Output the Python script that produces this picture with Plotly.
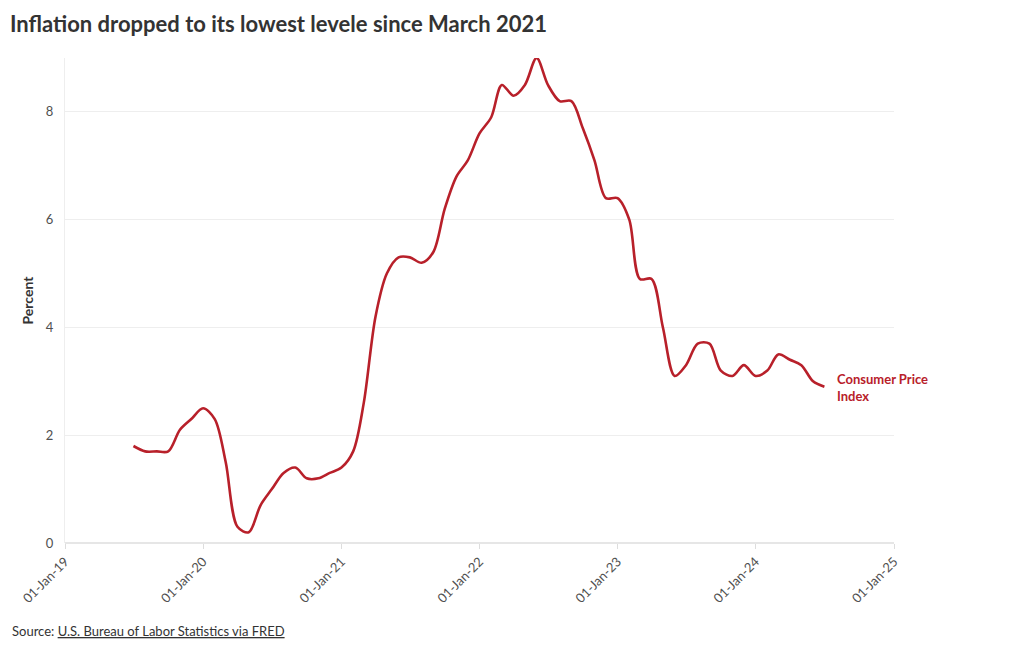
import plotly.graph_objects as go
import pandas as pd

# Monthly CPI year-over-year change (%), Jul 2019 - Jul 2024
start_month = "2019-07-01"
cpi_values = [
    1.8, 1.7, 1.7, 1.7, 2.1, 2.3,            # Jul-Dec 2019
    2.5, 2.3, 1.5, 0.3, 0.2, 0.7,            # Jan-Jun 2020
    1.0, 1.3, 1.4, 1.2, 1.2, 1.3,            # Jul-Dec 2020
    1.4, 1.7, 2.6, 4.2, 5.0, 5.3,            # Jan-Jun 2021
    5.3, 5.2, 5.4, 6.2, 6.8, 7.1,            # Jul-Dec 2021
    7.6, 7.9, 8.5, 8.3, 8.5, 9.0,            # Jan-Jun 2022
    8.5, 8.2, 8.2, 7.7, 7.1, 6.4,            # Jul-Dec 2022
    6.4, 6.0, 4.9, 4.9, 4.0, 3.1,            # Jan-Jun 2023
    3.3, 3.7, 3.7, 3.2, 3.1, 3.3,            # Jul-Dec 2023
    3.1, 3.2, 3.5, 3.4, 3.3, 3.0,            # Jan-Jun 2024
    2.9,                                     # Jul 2024
]
dates = pd.date_range(start_month, periods=len(cpi_values), freq="MS")

series_name = "Consumer Price Index"
title_text = "Inflation dropped to its lowest levele since March 2021"
y_title = "Percent"
source_label = "Source: "
source_link = "U.S. Bureau of Labor Statistics via FRED"

FONT = "Lato"
RED = "#B8202A"

W, H = 1020, 650
L, R, T, B = 57, 134, 50, 115
plot_w = W - L - R
plot_h = H - T - B

fig = go.Figure()
fig.add_trace(go.Scatter(
    x=dates, y=cpi_values, mode="lines", name=series_name,
    line=dict(color=RED, width=2.6, shape="spline", smoothing=0.9),
    hoverinfo="x+y",
))

fig.add_annotation(
    x=dates[-1], y=cpi_values[-1], xref="x", yref="y",
    text="<b>Consumer Price<br>Index</b>", showarrow=False,
    xanchor="left", yanchor="middle", xshift=11, yshift=-1, align="left",
    font=dict(family=FONT, size=13, color=RED),
)
fig.add_annotation(
    x=(2 - L) / plot_w, y=-(623 - (H - B)) / plot_h, xref="paper", yref="paper",
    text=source_label + "<u>" + source_link + "</u>", showarrow=False,
    xanchor="left", yanchor="middle", align="left",
    font=dict(family=FONT, size=13, color="#333333"),
)

fig.update_layout(
    width=W, height=H,
    paper_bgcolor="white", plot_bgcolor="white",
    margin=dict(l=L, r=R, t=T, b=B),
    showlegend=False,
    font=dict(family=FONT, size=12, color="#555555"),
    title=dict(text="<b>" + title_text + "</b>", x=2 / W, xanchor="left",
               y=1 - 16 / H, yanchor="middle",
               font=dict(family=FONT, size=22, color="#333333")),
)
fig.update_xaxes(
    range=["2019-01-01", "2025-01-01"], tick0="2019-01-01", dtick="M12",
    tickformat="%d-%b-%y", tickangle=-45, showgrid=False,
    ticks="outside", ticklen=5, tickcolor="#dddddd", showline=False,
    zeroline=False, tickfont=dict(size=13, color="#505050"),
)
fig.update_yaxes(
    range=[0, 9.0], dtick=2, showgrid=True, gridcolor="#eeeeee",
    zeroline=True, zerolinecolor="#e6e6e6", showline=True, linecolor="#eeeeee",
    ticks="", ticklabelstandoff=8, tickfont=dict(size=13, color="#505050"),
    title=dict(text="<b>" + y_title + "</b>", font=dict(size=14, color="#333333"), standoff=8),
)

fig.write_html("out.html")
